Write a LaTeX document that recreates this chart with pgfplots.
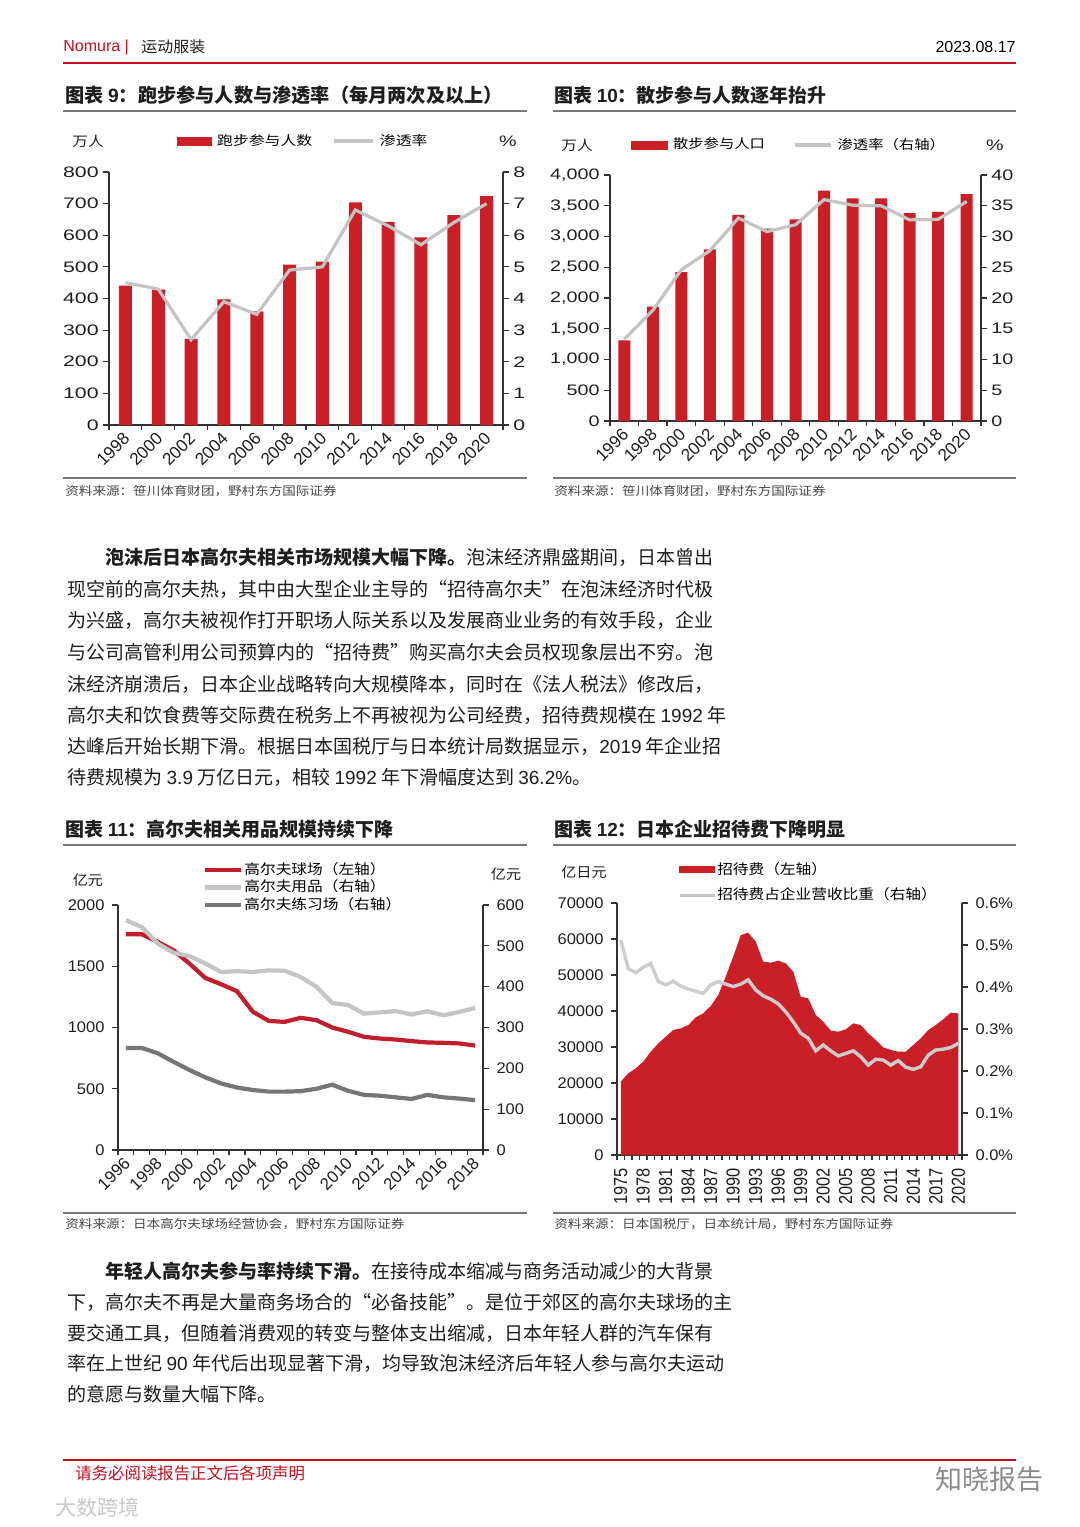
\documentclass[border=0pt]{standalone}
\usepackage{graphicx}
\usepackage{pgfplots}
\pgfplotsset{compat=1.18}
\usepackage{fontspec}
\setmainfont{Liberation Sans}
\newfontfamily\cjk{Noto Sans CJK SC}
\newcommand{\hs}[2]{\scalebox{#1}[1]{#2}}
\newcommand{\fs}[1]{\fontsize{#1}{#1}\selectfont}
\definecolor{barred}{RGB}{200,32,38}
\definecolor{hdrred}{RGB}{192,16,32}
\definecolor{lgray}{RGB}{196,196,196}
\definecolor{dgray}{RGB}{118,118,118}
\definecolor{rulegray}{RGB}{120,120,120}
\definecolor{axgray}{RGB}{50,50,50}
\definecolor{txt}{RGB}{30,30,30}
\definecolor{srcgray}{RGB}{70,70,70}

\pgfplotsset{
  base/.style={
    scale only axis, anchor=south west, clip=false,
    scaled ticks=false,
    /pgf/number format/assume math mode=true,
    axis line style={axgray, line width=0.6pt},
    tick style={axgray, line width=0.6pt},
    tick align=outside,
    major tick length=3pt, minor tick length=2.5pt,
    major x tick style={draw=none},
    ticklabel style={text=txt},
    legend style={draw=none, fill=none, inner sep=0pt, outer sep=0pt, nodes={inner sep=0.6pt}},
    legend cell align=left,
  },
}

\begin{document}
\begin{tikzpicture}
\fill[white] (0,0) rectangle (540pt,-763.5pt);
\path[use as bounding box] (0,0) rectangle (540pt,-763.5pt);

%% ---------------- Chart 9 ----------------
\begin{axis}[base, at={(54.5pt,-212.5pt)}, width=197pt, height=126.5pt,
  ybar, bar width=6.5pt,
  xmin=-0.5, xmax=11.5, ymin=0, ymax=800, ytick={0,100,...,800},
  axis y line*=left, axis x line*=bottom,
  xtick={0,...,11}, xticklabels={1998,2000,2002,2004,2006,2008,2010,2012,2014,2016,2018,2020},
  minor xtick={-0.5,0.5,...,11.5},
  xticklabel style={font=\fs{8.6}, rotate=45, anchor=east, inner sep=1pt, yshift=-2pt},
  yticklabel={\hs{1.4}{\pgfmathprintnumber{\tick}}},
  yticklabel style={font=\fs{7.6}, inner sep=2pt},
]
\addplot[fill=barred, draw=none] coordinates {(0,441)(1,428)(2,272)(3,397)(4,359)(5,507)(6,517)(7,704)(8,642)(9,593)(10,664)(11,724)};
\end{axis}
\begin{axis}[base, at={(54.5pt,-212.5pt)}, width=197pt, height=126.5pt,
  xmin=-0.5, xmax=11.5, ymin=0, ymax=8, ytick={0,...,8},
  axis y line*=right, axis x line=none,
  yticklabel={\hs{1.4}{\pgfmathprintnumber{\tick}}},
  yticklabel style={font=\fs{7.6}, inner sep=2pt},
  legend columns=-1,
  legend style={at={(0.173,1.1225)}, anchor=west, font=\fs{6.5},
     /tikz/every odd column/.append style={column sep=2pt},
     /tikz/every even column/.append style={column sep=9.5pt}},
]
\addlegendimage{legend image code/.code={\fill[barred] (0pt,-2pt) rectangle (17pt,2pt);}}
\addlegendentry{\hs{1.22}{\cjk 跑步参与人数}}
\addplot[lgray, line width=1.6pt, legend image code/.code={\draw[lgray, line width=1.6pt] (0pt,0pt) -- (19.5pt,0pt);}]
  coordinates {(0,4.5)(1,4.3)(2,2.7)(3,3.9)(4,3.5)(5,4.9)(6,5.0)(7,6.8)(8,6.3)(9,5.7)(10,6.4)(11,7.0)};
\addlegendentry{\hs{1.22}{\cjk 渗透率}}
\end{axis}

%% ---------------- Chart 10 ----------------
\begin{axis}[base, at={(305pt,-210.5pt)}, width=185.5pt, height=123pt,
  ybar, bar width=6pt,
  xmin=-0.5, xmax=12.5, ymin=0, ymax=4000, ytick={0,500,...,4000},
  axis y line*=left, axis x line*=bottom,
  xtick={0,...,12}, xticklabels={1996,1998,2000,2002,2004,2006,2008,2010,2012,2014,2016,2018,2020},
  minor xtick={-0.5,0.5,...,12.5},
  xticklabel style={font=\fs{8.6}, rotate=45, anchor=east, inner sep=1pt, yshift=-2pt},
  yticklabel={\hs{1.3}{\pgfmathprintnumber{\tick}}},
  yticklabel style={font=\fs{7.6}, inner sep=2pt},
]
\addplot[fill=barred, draw=none] coordinates {(0,1310)(1,1860)(2,2420)(3,2790)(4,3350)(5,3130)(6,3280)(7,3745)(8,3620)(9,3620)(10,3380)(11,3400)(12,3690)};
\end{axis}
\begin{axis}[base, at={(305pt,-210.5pt)}, width=185.5pt, height=123pt,
  xmin=-0.5, xmax=12.5, ymin=0, ymax=40, ytick={0,5,...,40},
  axis y line*=right, axis x line=none,
  yticklabel={\hs{1.3}{\pgfmathprintnumber{\tick}}},
  yticklabel style={font=\fs{7.6}, inner sep=2pt},
  legend columns=-1,
  legend style={at={(0.0566,1.122)}, anchor=west, font=\fs{6.5},
     /tikz/every odd column/.append style={column sep=2pt},
     /tikz/every even column/.append style={column sep=13.5pt}},
]
\addlegendimage{legend image code/.code={\fill[barred] (0pt,-2pt) rectangle (18pt,2pt);}}
\addlegendentry{\hs{1.18}{\cjk 散步参与人口}}
\addplot[lgray, line width=1.6pt, legend image code/.code={\draw[lgray, line width=1.6pt] (0pt,0pt) -- (18pt,0pt);}]
  coordinates {(0,13.3)(1,18.0)(2,24.6)(3,27.7)(4,33.0)(5,30.8)(6,31.9)(7,36.0)(8,35.1)(9,35.0)(10,32.7)(11,32.8)(12,35.7)};
\addlegendentry{\hs{1.18}{\cjk 渗透率（右轴）}}
\end{axis}

%% ---------------- Chart 11 ----------------
\begin{axis}[base, at={(59pt,-575pt)}, width=182.5pt, height=122.5pt,
  xmin=-0.5, xmax=22.5, ymin=0, ymax=2000, ytick={0,500,...,2000},
  /pgf/number format/1000 sep={},
  axis y line*=left, axis x line*=bottom,
  xtick={0,2,...,22}, xticklabels={1996,1998,2000,2002,2004,2006,2008,2010,2012,2014,2016,2018},
  minor xtick={-0.5,0.5,...,22.5},
  xticklabel style={font=\fs{8.4}, rotate=45, anchor=east, inner sep=1pt, yshift=-2pt},
  yticklabel style={font=\fs{7.7}, xscale=1.07},
]
\addplot[color={rgb,255:red,192;green,30;blue,45}, line width=2.1pt] coordinates {
(0,1761)(1,1761)(2,1700)(3,1630)(4,1522)(5,1405)(6,1353)(7,1296)(8,1128)(9,1054)(10,1046)(11,1079)
(12,1060)(13,1000)(14,965)(15,924)(16,910)(17,902)(18,889)(19,878)(20,875)(21,870)(22,853)};
\end{axis}
\begin{axis}[base, at={(59pt,-575pt)}, width=182.5pt, height=122.5pt,
  xmin=-0.5, xmax=22.5, ymin=0, ymax=600, ytick={0,100,...,600},
  axis y line*=right, axis x line=none,
  yticklabel style={font=\fs{7.7}, xscale=1.07},
  legend style={at={(0.233,1.178)}, anchor=north west, font=\fs{7}, row sep=0pt},
  legend image code/.code={\draw[#1] (0pt,0pt) -- (18pt,0pt);},
]
\addlegendimage{color={rgb,255:red,192;green,30;blue,45}, line width=2pt}
\addlegendentry{\hs{1.12}{\cjk 高尔夫球场（左轴）}}
\addplot[lgray, line width=2.1pt] coordinates {
(0,563)(1,546)(2,506)(3,483)(4,475)(5,457)(6,436)(7,438)(8,436)(9,440)(10,439)(11,424)
(12,400)(13,360)(14,355)(15,334)(16,337)(17,340)(18,332)(19,340)(20,330)(21,338)(22,348)};
\addlegendentry{\hs{1.12}{\cjk 高尔夫用品（右轴）}}
\addplot[dgray, line width=2.1pt] coordinates {
(0,250)(1,250)(2,237)(3,216)(4,196)(5,178)(6,163)(7,153)(8,147)(9,143)(10,143)(11,144)
(12,150)(13,160)(14,145)(15,135)(16,133)(17,129)(18,125)(19,135)(20,129)(21,126)(22,122)};
\addlegendentry{\hs{1.12}{\cjk 高尔夫练习场（右轴）}}
\end{axis}

%% ---------------- Chart 12 ----------------
\begin{axis}[base, at={(308.5pt,-577.5pt)}, width=172.5pt, height=126pt,
  xmin=-0.5, xmax=45.5, ymin=0, ymax=70000, ytick={0,10000,...,70000},
  /pgf/number format/1000 sep={},
  axis y line*=left, axis x line*=bottom,
  xtick={0,3,...,45}, xticklabels={1975,1978,1981,1984,1987,1990,1993,1996,1999,2002,2005,2008,2011,2014,2017,2020},
  minor xtick={-0.5,0.5,...,45.5},
  xticklabel style={font=\fs{8.2}, xscale=1.15, rotate=90, anchor=east},
  yticklabel style={font=\fs{7.7}, xscale=1.07},
]
\addplot[fill=barred, draw=none] coordinates {
(0,20370)(1,22685)(2,24070)(3,25930)(4,28700)(5,31000)(6,32870)(7,34720)(8,35185)(9,36100)
(10,38240)(11,39350)(12,41390)(13,44440)(14,49540)(15,55090)(16,61100)(17,61760)(18,59260)(19,53700)
(20,53430)(21,53980)(22,53240)(23,50930)(24,44000)(25,43500)(26,38890)(27,37040)(28,34540)(29,34260)
(30,34900)(31,36570)(32,36100)(33,33800)(34,31940)(35,29900)(36,29170)(37,28700)(38,28700)(39,30560)
(40,32400)(41,34720)(42,36100)(43,37690)(44,39540)(45,39350)} \closedcycle;
\end{axis}
\begin{axis}[base, at={(308.5pt,-577.5pt)}, width=172.5pt, height=126pt,
  xmin=-0.5, xmax=45.5, ymin=0, ymax=0.6, ytick={0,0.1,...,0.6},
  yticklabel={\pgfmathprintnumber[fixed,fixed zerofill,precision=1]{\tick}\%},
  axis y line*=right, axis x line=none,
  yticklabel style={font=\fs{7.7}, xscale=1.07},
  legend style={at={(0.177,1.167)}, anchor=north west, font=\fs{7}, row sep=4pt},
]
\addlegendimage{legend image code/.code={\fill[barred] (0pt,-1.4pt) rectangle (17.5pt,1.4pt);}}
\addlegendentry{\hs{1.12}{\cjk 招待费（左轴）}}
\addplot[color={rgb,255:red,205;green,205;blue,205}, line width=1.7pt,
  legend image code/.code={\draw[lgray, line width=1.5pt] (0pt,0pt) -- (17.5pt,0pt);}] coordinates {
(0,0.512)(1,0.444)(2,0.434)(3,0.447)(4,0.456)(5,0.413)(6,0.405)(7,0.414)(8,0.402)(9,0.395)
(10,0.390)(11,0.385)(12,0.405)(13,0.413)(14,0.407)(15,0.401)(16,0.407)(17,0.417)(18,0.393)(19,0.379)
(20,0.371)(21,0.360)(22,0.341)(23,0.317)(24,0.290)(25,0.278)(26,0.248)(27,0.262)(28,0.248)(29,0.236)
(30,0.242)(31,0.248)(32,0.234)(33,0.214)(34,0.228)(35,0.226)(36,0.214)(37,0.225)(38,0.209)(39,0.204)
(40,0.210)(41,0.238)(42,0.250)(43,0.252)(44,0.256)(45,0.266)};
\addlegendentry{\hs{1.12}{\cjk 招待费占企业营收比重（右轴）}}
\end{axis}

%% ---------------- page decorations ----------------
\begin{scope}[x=0.5pt, y=-0.5pt]
% header
\node[anchor=west, text=hdrred, font=\fs{8}, inner sep=0pt] at (63,47) {Nomura |};
\node[anchor=west, text=txt, font=\fs{7.6}, inner sep=0pt] at (141,47) {\hs{1.05}{\cjk 运动服装}};
\node[anchor=east, text=black, font=\fs{8}, inner sep=0pt] at (1016,47) {2023.08.17};
\draw[hdrred, line width=1pt] (63,63) -- (1016,63);

% titles
\node[anchor=west, inner sep=0pt, font=\fs{9.6}\bfseries, text=txt] at (65,95) {{\cjk 图表 }9{\cjk ：跑步参与人数与渗透率（每月两次及以上）}};
\draw[rulegray, line width=0.8pt] (63,111) -- (527,111);
\node[anchor=west, inner sep=0pt, font=\fs{9.5}\bfseries, text=txt] at (554,95) {{\cjk 图表 }10{\cjk ：散步参与人数逐年抬升}};
\draw[rulegray, line width=0.8pt] (553,111) -- (1016,111);
\node[anchor=west, inner sep=0pt, font=\fs{9.5}\bfseries, text=txt] at (65,829) {{\cjk 图表 }11{\cjk ：高尔夫相关用品规模持续下降}};
\draw[rulegray, line width=0.8pt] (63,845) -- (527,845);
\node[anchor=west, inner sep=0pt, font=\fs{9.5}\bfseries, text=txt] at (554,829) {{\cjk 图表 }12{\cjk ：日本企业招待费下降明显}};
\draw[rulegray, line width=0.8pt] (553,845) -- (1016,845);

% units
\node[inner sep=0pt, font=\fs{6.8}, text=txt] at (88,141) {\hs{1.15}{\cjk 万人}};
\node[inner sep=0pt, font=\fs{7.6}, text=txt] at (508,141) {\hs{1.3}{\%}};
\node[inner sep=0pt, font=\fs{6.8}, text=txt] at (577,145) {\hs{1.15}{\cjk 万人}};
\node[inner sep=0pt, font=\fs{7.6}, text=txt] at (995,145) {\hs{1.3}{\%}};
\node[inner sep=0pt, font=\fs{7}, text=txt] at (88,880) {\hs{1.08}{\cjk 亿元}};
\node[inner sep=0pt, font=\fs{7}, text=txt] at (506,874) {\hs{1.08}{\cjk 亿元}};
\node[inner sep=0pt, font=\fs{7}, text=txt] at (584,872) {\hs{1.08}{\cjk 亿日元}};

% sources
\draw[rulegray, line width=0.6pt] (63,478) -- (527,478);
\node[anchor=west, inner sep=0pt, font=\fs{6}, text=srcgray] at (65,491) {\hs{1.13}{\cjk 资料来源：笹川体育财团，野村东方国际证券}};
\draw[rulegray, line width=0.6pt] (553,478) -- (1016,478);
\node[anchor=west, inner sep=0pt, font=\fs{6}, text=srcgray] at (554,491) {\hs{1.13}{\cjk 资料来源：笹川体育财团，野村东方国际证券}};
\draw[rulegray, line width=0.6pt] (63,1213) -- (527,1213);
\node[anchor=west, inner sep=0pt, font=\fs{6}, text=srcgray] at (65,1224) {\hs{1.13}{\cjk 资料来源：日本高尔夫球场经营协会，野村东方国际证券}};
\draw[rulegray, line width=0.6pt] (553,1213) -- (1016,1213);
\node[anchor=west, inner sep=0pt, font=\fs{6}, text=srcgray] at (554,1224) {\hs{1.13}{\cjk 资料来源：日本国税厅，日本统计局，野村东方国际证券}};

% paragraph 1
\begin{scope}[every node/.style={anchor=west, inner sep=0pt, font=\fs{9.5}\cjk, text=txt}]
\node at (105,557) {{\bfseries 泡沫后日本高尔夫相关市场规模大幅下降。}泡沫经济鼎盛期间，日本曾出};
\node at (67,589) {现空前的高尔夫热，其中由大型企业主导的“招待高尔夫”在泡沫经济时代极};
\node at (67,620) {为兴盛，高尔夫被视作打开职场人际关系以及发展商业业务的有效手段，企业};
\node at (67,652) {与公司高管利用公司预算内的“招待费”购买高尔夫会员权现象层出不穷。泡};
\node at (67,684) {沫经济崩溃后，日本企业战略转向大规模降本，同时在《法人税法》修改后，};
\node at (67,715) {高尔夫和饮食费等交际费在税务上不再被视为公司经费，招待费规模在 {\rmfamily 1992} 年};
\node at (67,746) {达峰后开始长期下滑。根据日本国税厅与日本统计局数据显示，{\rmfamily 2019} 年企业招};
\node at (67,777) {待费规模为 {\rmfamily 3.9} 万亿日元，相较 {\rmfamily 1992} 年下滑幅度达到 {\rmfamily 36.2\%}。};
% paragraph 2
\node at (105,1271) {{\bfseries 年轻人高尔夫参与率持续下滑。}在接待成本缩减与商务活动减少的大背景};
\node at (67,1302) {下，高尔夫不再是大量商务场合的“必备技能”。是位于郊区的高尔夫球场的主};
\node at (67,1333) {要交通工具，但随着消费观的转变与整体支出缩减，日本年轻人群的汽车保有};
\node at (67,1363) {率在上世纪 {\rmfamily 90} 年代后出现显著下滑，均导致泡沫经济后年轻人参与高尔夫运动};
\node at (67,1394) {的意愿与数量大幅下降。};
\end{scope}

% footer
\draw[hdrred, line width=1pt] (63,1460) -- (1016,1460);
\node[anchor=west, inner sep=0pt, font=\fs{8.2}, text=hdrred] at (75,1473) {\cjk 请务必阅读报告正文后各项声明};
\node[anchor=west, inner sep=0pt, font=\fs{13.5}, text={rgb,255:red,140;green,140;blue,140}] at (935,1479) {\cjk 知晓报告};
\node[anchor=west, inner sep=0pt, font=\fs{10.5}, text={rgb,255:red,200;green,200;blue,200}] at (55,1507) {\cjk 大数跨境};
\end{scope}
\end{tikzpicture}
\end{document}
